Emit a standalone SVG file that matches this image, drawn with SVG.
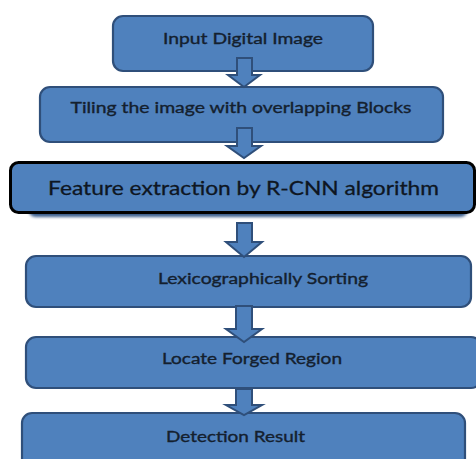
<svg xmlns="http://www.w3.org/2000/svg" width="476" height="459" viewBox="0 0 476 459">
<defs>
<style>
.box{fill:#4F81BD;stroke:#2F4F7A;stroke-width:2.2}
.boxk{fill:#4F81BD;stroke:#000;stroke-width:3}
.arr{fill:#4F81BD;stroke:#2F4F7A;stroke-width:2;stroke-linejoin:miter}
.t{font-family:"Lato","Open Sans",sans-serif;font-size:15.5px;fill:#14202e;stroke:#14202e;stroke-width:0.35;text-anchor:middle}
.tb{font-family:"Lato","Open Sans",sans-serif;font-size:20px;fill:#0e1622;stroke:#0e1622;stroke-width:0.3;text-anchor:middle}
</style>
<filter id="sh" x="-5%" y="-20%" width="110%" height="140%"><feGaussianBlur stdDeviation="1.5"/></filter>
</defs>
<rect width="476" height="459" fill="#fff"/>
<g id="n1"><rect class="box" x="113" y="16" width="260" height="55" rx="10"/><text class="t" x="243" y="44" textLength="160" lengthAdjust="spacingAndGlyphs">Input Digital Image</text></g>
<g id="n2"><rect class="box" x="40" y="87" width="403" height="55" rx="10"/><text class="t" x="241" y="113" textLength="341" lengthAdjust="spacingAndGlyphs">Tiling the image with overlapping Blocks</text></g>
<g id="n3"><rect x="28" y="168" width="440" height="49" rx="8" fill="#3B5F8E" filter="url(#sh)"/><rect class="boxk" x="10.5" y="162.5" width="464" height="50" rx="8"/><text class="tb" x="243.5" y="195" textLength="391" lengthAdjust="spacingAndGlyphs">Feature extraction by R-CNN algorithm</text></g>
<g id="n4"><rect class="box" x="26" y="256" width="445" height="51" rx="10"/><text class="t" x="263" y="284" textLength="210" lengthAdjust="spacingAndGlyphs">Lexicographically Sorting</text></g>
<g id="n5"><rect class="box" x="26" y="337" width="455" height="51" rx="10"/><text class="t" x="252" y="364" textLength="180" lengthAdjust="spacingAndGlyphs">Locate Forged Region</text></g>
<g id="n6"><rect class="box" x="22" y="413" width="443" height="60" rx="10"/><text class="t" x="235.5" y="442" textLength="139" lengthAdjust="spacingAndGlyphs">Detection Result</text></g>
<g id="connectors">
<path class="arr" d="M237,58 H252 V75 H260 L244,87 L228,75 H237 Z"/>
<path class="arr" d="M237,128 H252 V146 H261 L244,158 L227,146 H237 Z"/>
<path class="arr" d="M237,223 H252 V242 H262 L244,257 L226,242 H237 Z"/>
<path class="arr" d="M236,306 H252 V329 H262 L244,342 L226,329 H236 Z"/>
<path class="arr" d="M236,389 H252 V405 H262 L244,415 L226,405 H236 Z"/>
</g>
</svg>
